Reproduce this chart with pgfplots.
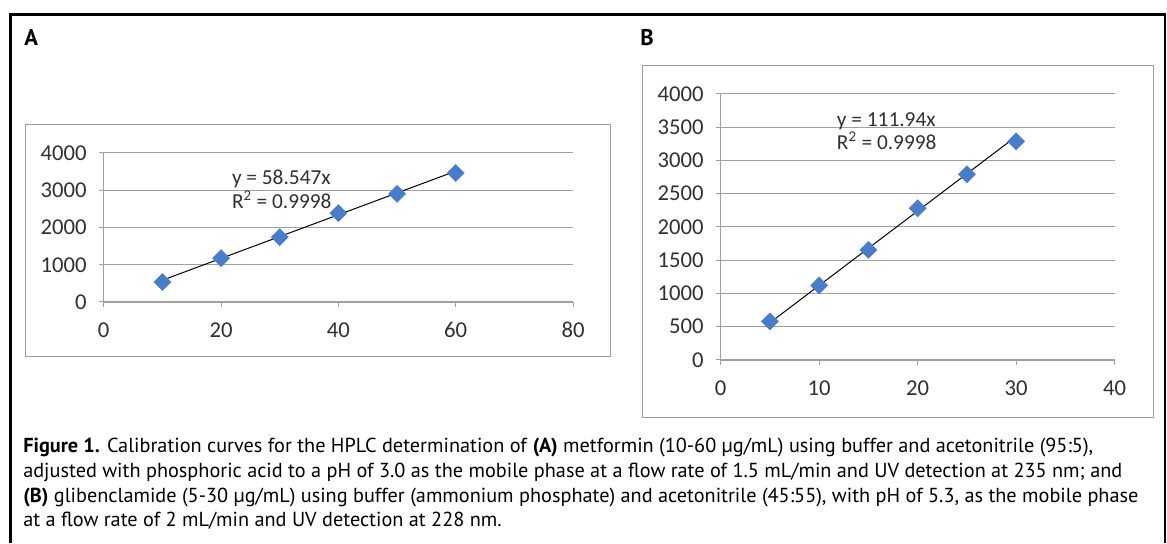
\documentclass[border=0pt]{standalone}
\usepackage{fontspec}
\usepackage{pgfplots}
\pgfplotsset{compat=1.18}
\setmainfont{PT Sans}
\newfontfamily\calibri{Carlito}
\definecolor{mkblue}{HTML}{4A7DC9}
\definecolor{gridgray}{HTML}{A0A0A0}
\definecolor{framegray}{HTML}{9C9C9C}
\definecolor{txtgray}{HTML}{303030}

\pgfplotsset{
  excelplot/.style={
    scale only axis,
    anchor=south west,
    axis x line*=bottom,
    axis y line*=left,
    axis line style={gridgray,-},
    ymajorgrids,
    grid style={gridgray, line width=0.75pt},
    tick style={gridgray, line width=0.75pt},
    major tick length=3.75pt,
    tick align=outside,
    ymin=0, ymax=4000,
    tick label style={font=\calibri\fontsize{17}{20}\selectfont, text=txtgray},
    xticklabel style={yshift=-8pt},
    yticklabel style={xshift=-5.5pt},
    /pgf/number format/assume math mode=true,
    /pgf/number format/1000 sep={},
    scaled ticks=false,
  },
}

\begin{document}
\begin{tikzpicture}
\useasboundingbox (0,0) rectangle (875.25pt,407.25pt);

% outer border (cut off at the bottom)
\draw[black, line width=2pt] (7.875pt,0pt) -- (7.875pt,396.375pt) -- (873.75pt,396.375pt) -- (873.75pt,0pt);

% panel frames
\draw[framegray, line width=0.75pt] (18.75pt,139.5pt) rectangle (457.5pt,313.5pt);
\draw[framegray, line width=0.75pt] (481.5pt,94.5pt) rectangle (864.75pt,357.75pt);

\node[anchor=west, inner sep=0pt, font=\bfseries\fontsize{17}{20}\selectfont] at (18pt,378.75pt) {A};
\node[anchor=west, inner sep=0pt, font=\bfseries\fontsize{17}{20}\selectfont] at (480pt,378.75pt) {B};

% panel A: metformin
\begin{axis}[excelplot,
  at={(77.8pt,180.75pt)},
  width=352pt, height=111.75pt,
  xmin=0, xmax=80,
  xtick={0,20,40,60,80},
  ytick={0,1000,2000,3000,4000},
]
\addplot[only marks, mark=square*, mark size=4.5pt,
  mark options={rotate=45, fill=mkblue, draw=mkblue}]
  coordinates {(10,536) (20,1179) (30,1741) (40,2384) (50,2902) (60,3464)};
\addplot[black, line width=0.75pt] coordinates {(10,585.47) (60,3512.82)};
\end{axis}

% panel B: glibenclamide
\begin{axis}[excelplot,
  at={(540.5pt,137.25pt)},
  width=295.5pt, height=199.7pt,
  xmin=0, xmax=40,
  xtick={0,10,20,30,40},
  ytick={0,500,1000,1500,2000,2500,3000,3500,4000},
]
\addplot[only marks, mark=square*, mark size=4.5pt,
  mark options={rotate=45, fill=mkblue, draw=mkblue}]
  coordinates {(5,580) (10,1120) (15,1655) (20,2280) (25,2790) (30,3285)};
\addplot[black, line width=0.75pt] coordinates {(5,559.7) (30,3358.2)};
\end{axis}

% trend line equations
\begin{scope}[every node/.style={anchor=base west, inner sep=0pt, text=txtgray, font=\calibri\fontsize{16}{19}\selectfont}]
\node at (173.8pt,268.75pt) {y = 58.547x};
\node at (173.8pt,250.75pt) {R\textsuperscript{2} = 0.9998};
\node at (627.5pt,312.25pt) {y = 111.94x};
\node at (627.5pt,295pt) {R\textsuperscript{2} = 0.9998};
\end{scope}

% caption
\begin{scope}[every node/.style={anchor=base west, inner sep=0pt, font=\fontsize{15.2}{18}\selectfont}]
\node at (17.25pt,68.25pt) {\textbf{Figure 1.} Calibration curves for the HPLC determination of \textbf{(A)} metformin (10-60 µg/mL) using buffer and acetonitrile (95:5),};
\node at (17.25pt,49.5pt) {adjusted with phosphoric acid to a pH of 3.0 as the mobile phase at a flow rate of 1.5 mL/min and UV detection at 235 nm; and};
\node at (17.25pt,30.75pt) {\textbf{(B)} glibenclamide (5-30 µg/mL) using buffer (ammonium phosphate) and acetonitrile (45:55), with pH of 5.3, as the mobile phase};
\node at (17.25pt,12.75pt) {at a flow rate of 2 mL/min and UV detection at 228 nm.};
\end{scope}
\end{tikzpicture}
\end{document}
